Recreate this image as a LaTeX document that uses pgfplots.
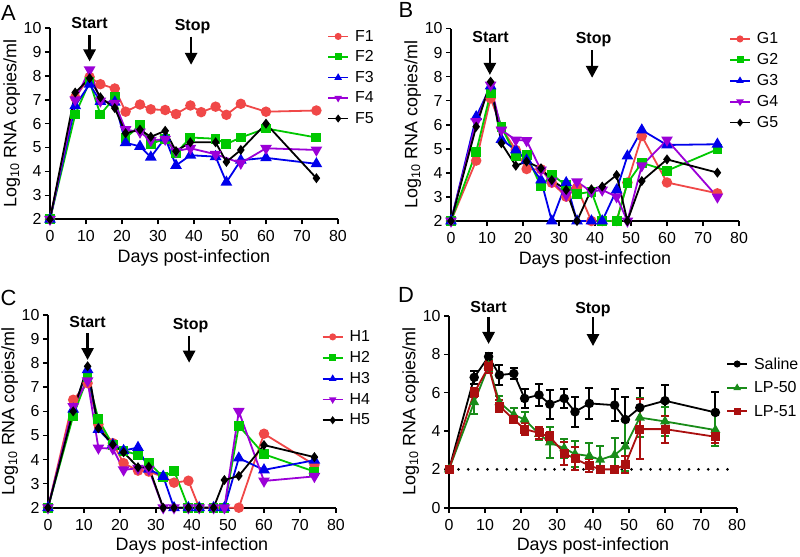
\documentclass[border=0pt]{standalone}
\usepackage{fontspec}
\setmainfont{Liberation Sans}
\usepackage{pgfplots}
\pgfplotsset{compat=1.18}
\usetikzlibrary{arrows.meta}

\definecolor{cRed}{RGB}{240,72,72}
\definecolor{cGreen}{RGB}{0,200,0}
\definecolor{cBlue}{RGB}{0,0,235}
\definecolor{cPurple}{RGB}{155,0,215}
\definecolor{dGreen}{RGB}{25,140,25}
\definecolor{dRed}{RGB}{170,15,15}

\newcommand{\tickf}{\fontsize{16}{18}\selectfont}
\newcommand{\labf}{\fontsize{18}{21}\selectfont}
\newcommand{\bolf}{\bfseries\fontsize{16}{18}\selectfont}

\tikzset{arr/.style={line width=2.6bp, -{Triangle[length=12bp,width=12bp]}}}

\pgfplotsset{
  panel/.style={
    scale only axis, width=288bp, height=192bp,
    xmin=0, xmax=80, xtick={0,10,...,80},
    axis lines=left, axis line style={line width=2bp,-},
    tick align=outside, major tick length=5bp,
    tick style={line width=1.6bp,black},
    tick label style={font=\tickf},
    xticklabel style={yshift=-3bp},
    /pgf/number format/assume math mode=true,
    xlabel={Days post-infection},
    ylabel={Log\textsubscript{10} RNA copies/ml},
    every axis y label/.style={at={(axis description cs:-0.133,0.5)},rotate=90,anchor=center,font=\labf},
    every axis x label/.style={at={(axis description cs:0.5,-0.2)},anchor=center,font=\labf},
    clip=false,
    legend cell align=left,
    legend style={draw=none, fill=none, font=\tickf, anchor=north west, inner sep=0pt, column sep=4bp},
    legend image code/.code={\draw[mark repeat=2,mark phase=2,##1]
      plot coordinates {(0bp,0bp)(10bp,0bp)(20bp,0bp)};},
    legend image post style={mark size=2.6bp},
  },
  s1/.style={cRed, line width=1.8bp, mark=*, mark size=4.3bp},
  s2/.style={cGreen, line width=1.8bp, mark=square*, mark size=4bp},
  s3/.style={cBlue, line width=1.8bp, mark=triangle*, mark size=5bp},
  s4/.style={cPurple, line width=1.8bp, mark=triangle*, mark size=5bp, mark options={rotate=180}},
  s5/.style={black, line width=1.8bp, mark=diamond*, mark size=3.6bp},
  eb/.style={error bars/.cd, y dir=both, y explicit,
    error bar style={line width=2bp},
    error mark options={rotate=90, line width=2bp, mark size=4bp}},
}

\begin{document}
\begin{tikzpicture}
\path[use as bounding box] (0,0) rectangle (800bp,-557bp);

% ---------------- A
\node[font=\fontsize{22}{24}\selectfont] at (8.5bp,-12.5bp) {A};
\begin{axis}[panel, at={(50bp,-219.3bp)}, anchor=south west,
  height=191.3bp, ymin=2, ymax=10, ytick={2,3,...,10},
  legend style={at={(0.962,1.0)}, row sep=4bp}]
\addplot[s1] coordinates {(0,2)(7,7.1)(11,7.95)(14,7.65)(18,7.47)(21,6.5)(25,6.8)(28,6.6)(32,6.57)(35,6.4)(39,6.76)(42,6.48)(46,6.71)(49,6.37)(53,6.83)(60,6.5)(74,6.55)};
\addplot[s2] coordinates {(0,2)(7,6.38)(11,7.75)(14,6.38)(18,7.1)(21,5.4)(25,5.93)(28,5.15)(32,5.37)(35,4.77)(39,5.42)(46,5.37)(49,5.15)(53,5.42)(60,5.8)(74,5.42)};
\addplot[s3] coordinates {(0,2)(7,6.75)(11,7.65)(14,6.93)(18,6.9)(21,5.2)(25,5.05)(28,4.6)(32,5.4)(35,4.25)(39,4.68)(46,4.62)(49,3.55)(53,4.47)(60,4.57)(74,4.32)};
\addplot[s4] coordinates {(0,2)(7,7.0)(11,8.25)(14,6.95)(18,6.85)(21,5.75)(25,5.65)(28,5.3)(32,5.35)(35,4.85)(39,4.97)(46,4.72)(53,4.35)(60,4.97)(74,4.9)};
\addplot[s5] coordinates {(0,2)(7,7.3)(11,7.9)(14,7.1)(18,6.65)(21,5.6)(25,5.75)(28,5.45)(32,5.7)(35,4.85)(39,5.22)(46,5.22)(49,4.4)(53,4.9)(60,6.0)(74,3.72)};
\legend{F1,F2,F3,F4,F5}
\node[font=\bolf] at (axis cs:11,10.2) {Start};
\draw[arr] (axis cs:11,9.71) -- (axis cs:11,8.6);
\node[font=\bolf] at (axis cs:39.6,10.06) {Stop};
\draw[arr] (axis cs:39.2,9.64) -- (axis cs:39.2,8.46);
\end{axis}

% ---------------- B
\node[font=\fontsize{22}{24}\selectfont] at (406bp,-10bp) {B};
\begin{axis}[panel, at={(451bp,-221bp)}, anchor=south west,
  height=192.5bp, ymin=2, ymax=10, ytick={2,3,...,10},
  legend style={at={(0.965,0.99)}, row sep=4.3bp}]
\addplot[s1] coordinates {(0,2)(7,4.51)(11,7.1)(14,5.88)(18,4.95)(21,4.16)(25,4.15)(28,3.59)(32,3.01)(35,3.39)(39,2)(42,2)(46,2)(49,3.6)(53,5.53)(60,3.6)(74,3.15)};
\addplot[s2] coordinates {(0,2)(7,4.88)(11,7.33)(14,5.92)(18,4.7)(21,4.74)(25,3.43)(28,3.93)(32,3.48)(35,3.12)(39,3.22)(42,2)(46,2)(49,3.57)(53,4.42)(60,4.09)(74,4.98)};
\addplot[s3] coordinates {(0,2)(7,6.33)(11,7.61)(14,5.39)(18,4.95)(21,4.53)(25,3.7)(28,2)(32,3.59)(35,2)(39,2)(42,2)(46,3.29)(49,4.7)(53,5.78)(60,5.16)(74,5.19)};
\addplot[s4] coordinates {(0,2)(7,6.13)(11,7.65)(14,5.78)(18,5.37)(21,5.34)(25,4.12)(28,3.66)(32,3.08)(35,3.63)(39,3.22)(42,3.29)(46,3.01)(49,2)(53,4.3)(60,5.37)(74,3.0)};
\addplot[s5] coordinates {(0,2)(7,5.92)(11,7.79)(14,5.23)(18,4.3)(21,4.47)(25,4.19)(28,3.7)(32,3.29)(35,2)(39,3.32)(42,3.43)(46,3.91)(49,2)(53,3.66)(60,4.56)(74,4.01)};
\legend{G1,G2,G3,G4,G5}
\node[font=\bolf] at (axis cs:11,9.66) {Start};
\draw[arr] (axis cs:10.8,9.19) -- (axis cs:10.8,8.07);
\node[font=\bolf] at (axis cs:39.6,9.55) {Stop};
\draw[arr] (axis cs:39.2,9.1) -- (axis cs:39.2,7.95);
\end{axis}

% ---------------- C
\node[font=\fontsize{22}{24}\selectfont] at (8.5bp,-298bp) {C};
\begin{axis}[panel, at={(48bp,-507.7bp)}, anchor=south west,
  height=192.7bp, ymin=2, ymax=10, ytick={2,3,...,10},
  legend style={at={(0.95,0.93)}, row sep=4.3bp}]
\addplot[s1] coordinates {(0,2)(7,6.48)(11,7.17)(14,5.46)(18,4.68)(21,3.85)(25,3.54)(28,3.5)(32,3.28)(35,3.04)(39,3.12)(42,2)(46,2)(49,2)(53,2)(60,5.07)(74,3.78)};
\addplot[s2] coordinates {(0,2)(7,5.81)(11,7.41)(14,5.67)(18,4.6)(21,4.37)(25,4.19)(28,3.88)(32,3.26)(35,3.54)(39,2)(42,2)(46,2)(49,2)(53,5.4)(60,4.22)(74,3.5)};
\addplot[s3] coordinates {(0,2)(7,6.09)(11,7.73)(14,5.25)(18,4.62)(21,4.37)(25,4.5)(28,3.6)(32,3.3)(35,2)(39,2)(42,2)(46,2)(49,2)(53,4.06)(60,3.57)(74,3.97)};
\addplot[s4] coordinates {(0,2)(7,6.2)(11,7.27)(14,4.48)(18,4.45)(21,3.57)(25,3.64)(28,3.6)(32,2)(35,2)(39,2)(42,2)(46,2)(49,2)(53,6.0)(60,3.11)(74,3.3)};
\addplot[s5] coordinates {(0,2)(7,6.0)(11,7.87)(14,5.3)(18,4.62)(21,4.3)(25,3.68)(28,3.7)(32,2)(35,2)(39,2)(42,2)(46,2)(49,3.15)(53,3.32)(60,4.6)(74,4.1)};
\legend{H1,H2,H3,H4,H5}
\node[font=\bolf] at (axis cs:11,9.72) {Start};
\draw[arr] (axis cs:11,9.24) -- (axis cs:11,8.13);
\node[font=\bolf] at (axis cs:39.6,9.58) {Stop};
\draw[arr] (axis cs:39.2,9.13) -- (axis cs:39.2,8.02);
\end{axis}

% ---------------- D
\node[font=\fontsize{22}{24}\selectfont] at (406bp,-295bp) {D};
\begin{axis}[panel, at={(449bp,-507.7bp)}, anchor=south west,
  height=191.7bp, ymin=0, ymax=10, ytick={0,2,...,10},
  legend style={at={(0.962,0.795)}, row sep=7bp}]
\addplot[black, line width=3bp, dash pattern=on 0bp off 9.6bp, line cap=round, forget plot]
  coordinates {(0,2)(80,2)};
\addplot[black, line width=1.8bp, mark=*, mark size=3.8bp, eb] table[y error=e] {
x y e
0 2 0
7 6.8 0.35
11 7.88 0.2
14 6.92 0.5
18 7.0 0.3
21 5.7 0.5
25 5.88 0.55
28 5.4 0.75
32 5.7 0.5
35 5.0 0.8
39 5.44 0.8
46 5.35 0.85
49 4.6 1.2
53 5.22 1.0
60 5.58 0.8
74 4.97 1.05
};
\addplot[dGreen, line width=1.8bp, mark=triangle*, mark size=4bp, eb] table[y error=e] {
x y e
0 2 0
7 5.5 0.6
11 7.4 0.3
14 5.5 0.35
18 4.85 0.35
21 4.6 0.4
25 3.85 0.3
28 3.4 0.8
32 3.1 0.5
35 2.8 0.7
39 2.7 0.7
42 2.5 0.7
46 2.75 0.9
49 3.2 1.3
53 4.7 1.0
60 4.5 0.75
74 4.05 0.85
};
\addplot[dRed, line width=1.8bp, mark=square*, mark size=3.6bp, eb] table[y error=e] {
x y e
0 2 0
7 6.0 0.25
11 7.35 0.3
14 5.3 0.3
18 4.6 0.15
21 4.1 0.3
25 3.9 0.3
28 3.7 0.25
32 2.85 0.6
35 2.55 0.6
39 2.2 0.35
42 2.0 0.1
46 2.0 0.1
49 2.25 0.45
53 4.1 1.55
60 4.1 0.7
74 3.7 0.3
};
\legend{Saline,LP-50,LP-51}
\node[font=\bolf] at (axis cs:11,10.49) {Start};
\draw[arr] (axis cs:11,9.96) -- (axis cs:11,8.54);
\node[font=\bolf] at (axis cs:40,10.31) {Stop};
\draw[arr] (axis cs:40,9.93) -- (axis cs:40,8.43);
\end{axis}
\end{tikzpicture}
\end{document}
